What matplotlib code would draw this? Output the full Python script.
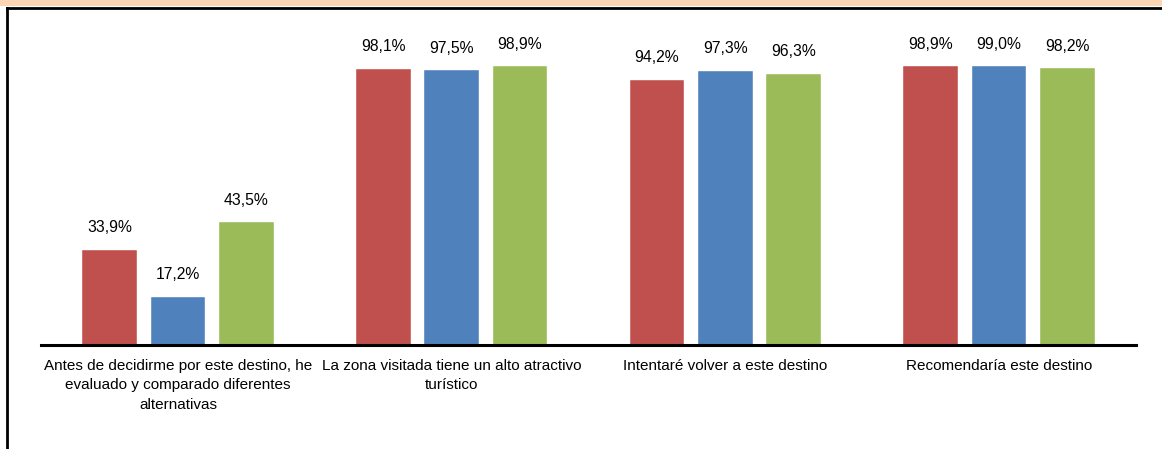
import numpy as np
import matplotlib
matplotlib.use("Agg")
from matplotlib import pyplot as plt
from matplotlib.patches import Rectangle
from matplotlib.lines import Line2D

plt.rcParams['font.family'] = ['Liberation Sans', 'DejaVu Sans']

categorias = ["Antes de decidirme por este destino, he\nevaluado y comparado diferentes\nalternativas",
              "La zona visitada tiene un alto atractivo\nturístico",
              "Intentaré volver a este destino",
              "Recomendaría este destino"]
serie1 = [33.9, 98.1, 94.2, 98.9]
serie2 = [17.2, 97.5, 97.3, 99.0]
serie3 = [43.5, 98.9, 96.3, 98.2]
colores = ["#C0504D", "#4F81BD", "#9BBB59"]

fig = plt.figure(figsize=(11.62, 4.49), dpi=100)
ax = fig.add_axes([0.0353, 0.2316, 0.9423, 0.7528])

x = np.arange(len(categorias))
for i, (serie, col) in enumerate(zip([serie1, serie2, serie3], colores)):
    barras = ax.bar(x + (i - 1) * 0.25, serie, width=0.2, color=col, edgecolor="white", linewidth=0.3)
    for b, v in zip(barras, serie):
        ax.annotate(f"{v:.1f}%".replace(".", ","), (b.get_x() + b.get_width() / 2, v),
                    xytext=(0, 10.5), textcoords="offset points", ha="center", va="bottom", fontsize=11.3)

ax.set_xlim(-0.5, len(categorias) - 0.5)
ax.set_ylim(0, 120)
ax.set_xticks(x)
ax.set_xticklabels(categorias, fontsize=11, linespacing=1.5)
ax.tick_params(axis="x", length=0, pad=10)
ax.set_yticks([])
for s in ["top", "right", "left"]:
    ax.spines[s].set_visible(False)
ax.spines["bottom"].set_linewidth(2.2)

# marco superior y lateral
fig.add_artist(Rectangle((0, 1 - 6 / 449), 1, 6 / 449, transform=fig.transFigure, color="#FCD5B4", lw=0))
fig.add_artist(Line2D([7 / 1162, 1], [1 - 7.5 / 449, 1 - 7.5 / 449], transform=fig.transFigure, color="black", lw=2))
fig.add_artist(Line2D([7 / 1162, 7 / 1162], [0, 1 - 7.5 / 449], transform=fig.transFigure, color="black", lw=2))

plt.savefig("out.png", dpi=100)
